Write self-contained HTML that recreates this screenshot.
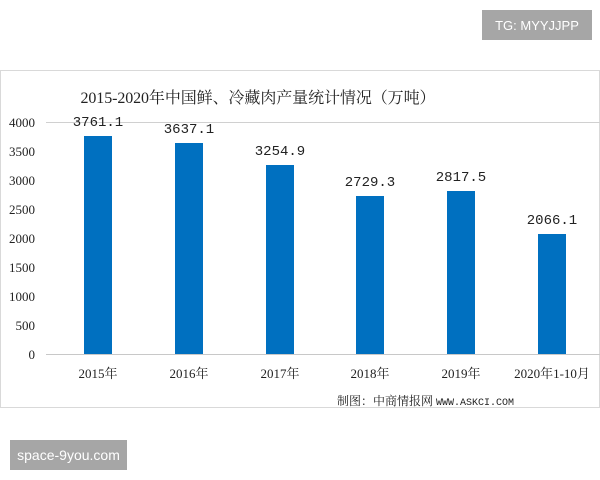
<!DOCTYPE html>
<html><head><meta charset="utf-8"><style>
body{margin:0;width:600px;height:480px;background:#fff;position:relative;overflow:hidden;font-family:"Liberation Serif","Noto Serif CJK SC",serif}
.b{position:absolute;background:#a6a6a6;color:#fff;font-family:"Liberation Sans",sans-serif;font-size:13px;display:flex;align-items:center;justify-content:center}
</style></head><body>
<div class="b" style="left:482px;top:10px;width:110px;height:30px;">TG: MYYJJPP</div>
<div class="b" style="left:10px;top:440px;width:117px;height:30px;font-size:14px">space-9you.com</div>
<svg width="600" height="480" style="position:absolute;left:0;top:0">
<rect x="0.5" y="70.5" width="599" height="337" fill="none" stroke="#d9d9d9"/>
<text x="258" y="103" font-size="16" text-anchor="middle" fill="#222" textLength="355" font-family="Liberation Serif,Noto Serif CJK SC,serif">2015-2020年中国鲜、冷藏肉产量统计情况（万吨）</text>
<line x1="46" y1="122.5" x2="600" y2="122.5" stroke="#d0d0d0"/>
<line x1="46" y1="354.5" x2="600" y2="354.5" stroke="#c8c8c8"/>
<g font-size="13" text-anchor="end" fill="#222">
<text x="35" y="127">4000</text><text x="35" y="156">3500</text><text x="35" y="185">3000</text><text x="35" y="214">2500</text><text x="35" y="243">2000</text><text x="35" y="272">1500</text><text x="35" y="301">1000</text><text x="35" y="330">500</text><text x="35" y="359">0</text>
</g>
<g fill="#0070c0">
<rect x="84" y="136" width="28" height="218"/>
<rect x="175" y="143" width="28" height="211"/>
<rect x="266" y="165" width="28" height="189"/>
<rect x="356" y="196" width="28" height="158"/>
<rect x="447" y="191" width="28" height="163"/>
<rect x="538" y="234" width="28" height="120"/>
</g>
<g font-size="14" text-anchor="middle" fill="#222" font-family="Liberation Mono,monospace">
<text x="98" y="126">3761.1</text><text x="189" y="133">3637.1</text><text x="280" y="155">3254.9</text><text x="370" y="186">2729.3</text><text x="461" y="181">2817.5</text><text x="552" y="224">2066.1</text>
</g>
<g font-size="13" text-anchor="middle" fill="#222">
<text x="98" y="378">2015年</text><text x="189" y="378">2016年</text><text x="280" y="378">2017年</text><text x="370" y="378">2018年</text><text x="461" y="378">2019年</text><text x="552" y="378">2020年1-10月</text>
</g>
<text x="337" y="405" font-size="12" fill="#222">制图：中商情报网 <tspan font-family="Liberation Mono,monospace" font-size="10">WWW.ASKCI.COM</tspan></text>
</svg>
</body></html>
